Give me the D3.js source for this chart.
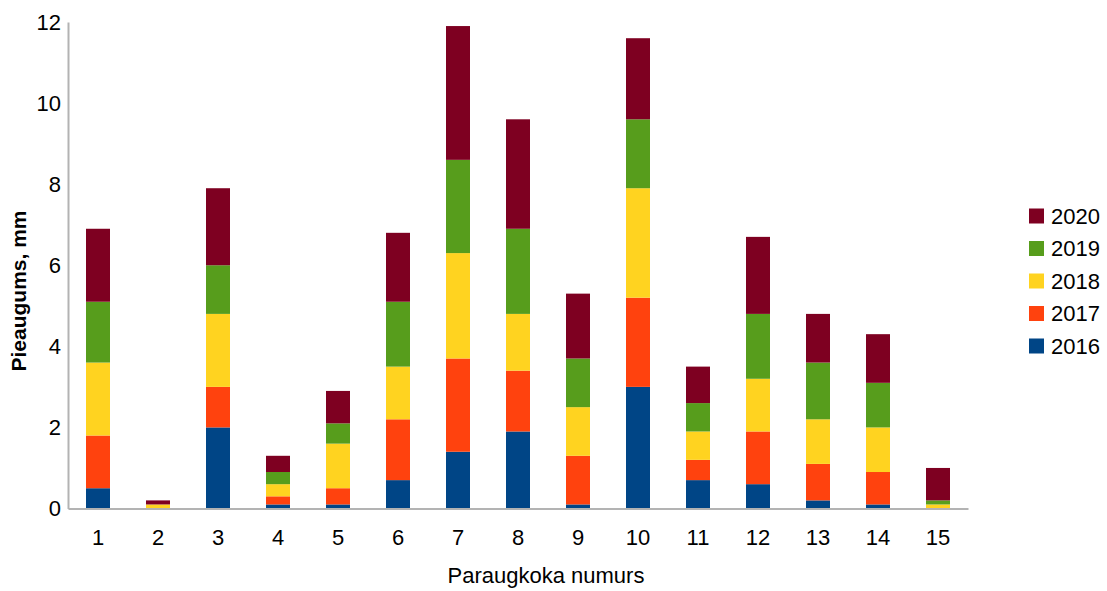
<!DOCTYPE html>
<html>
<head>
<meta charset="utf-8">
<script src="https://cdn.jsdelivr.net/npm/d3@7"></script>
<style>
  body { margin: 0; background: #fff; }
  svg { display: block; font-family: "Liberation Sans", Arial, sans-serif; }
</style>
</head>
<body>
<div id="chart"></div>
<script>
// Data
const samples = ["1", "2", "3", "4", "5", "6", "7", "8", "9", "10", "11", "12", "13", "14", "15"];
const years = ["2016", "2017", "2018", "2019", "2020"];
const v2016 = [0.5, 0, 2.0, 0.1, 0.1, 0.7, 1.4, 1.9, 0.1, 3.0, 0.7, 0.6, 0.2, 0.1, 0];
const v2017 = [1.3, 0, 1.0, 0.2, 0.4, 1.5, 2.3, 1.5, 1.2, 2.2, 0.5, 1.3, 0.9, 0.8, 0];
const v2018 = [1.8, 0.1, 1.8, 0.3, 1.1, 1.3, 2.6, 1.4, 1.2, 2.7, 0.7, 1.3, 1.1, 1.1, 0.1];
const v2019 = [1.5, 0, 1.2, 0.3, 0.5, 1.6, 2.3, 2.1, 1.2, 1.7, 0.7, 1.6, 1.4, 1.1, 0.1];
const v2020 = [1.8, 0.1, 1.9, 0.4, 0.8, 1.7, 3.3, 2.7, 1.6, 2.0, 0.9, 1.9, 1.2, 1.2, 0.8];
const yTicks = [0, 2, 4, 6, 8, 10, 12];
const colors = ["#004586", "#ff420e", "#ffd320", "#579d1c", "#7e0021"];

const width = 1107, height = 591;
const plot = { left: 68, right: 968, top: 22, bottom: 508.5 };

const svg = d3.select("#chart").append("svg")
  .attr("width", width)
  .attr("height", height);

// build rows for the stack
const series = [v2016, v2017, v2018, v2019, v2020];
const rows = samples.map((s, i) => {
  let r = { sample: s };
  years.forEach((y, j) => { r[y] = series[j][i]; });
  return r;
});
const stacked = d3.stack().keys(years)(rows);

const x = d3.scaleBand().domain(samples).range([plot.left, plot.right]).paddingInner(0.6).paddingOuter(0.3);
const y = d3.scaleLinear().domain([0, 12]).range([plot.bottom, plot.top]);
const color = d3.scaleOrdinal().domain(years).range(colors);

// bars
svg.append("g").selectAll("g")
  .data(stacked)
  .enter().append("g")
    .attr("fill", d => color(d.key))
  .selectAll("rect")
  .data(d => d)
  .enter().append("rect")
    .attr("x", d => x(d.data.sample))
    .attr("width", x.bandwidth())
    .attr("y", d => y(d[1]))
    .attr("height", d => y(d[0]) - y(d[1]));

// y axis
const yAxis = svg.append("g")
  .attr("transform", "translate(" + plot.left + ",0)")
  .call(d3.axisLeft(y).tickValues(yTicks).tickSize(0).tickPadding(7));
yAxis.select(".domain").attr("stroke", "#b3b3b3").attr("stroke-width", 2);
yAxis.selectAll("text").style("font-size", "22px").attr("fill", "#000");

// x axis
const xAxis = svg.append("g")
  .attr("transform", "translate(0," + plot.bottom + ")")
  .call(d3.axisBottom(x).tickSize(0).tickPadding(21));
xAxis.select(".domain").attr("stroke", "#b3b3b3").attr("stroke-width", 2);
xAxis.selectAll("text").style("font-size", "22px").attr("fill", "#000");

// axis titles
svg.append("text")
  .attr("x", 546)
  .attr("y", 583)
  .style("text-anchor", "middle")
  .style("font-size", "22px")
  .text("Paraugkoka numurs");

svg.append("text")
  .attr("transform", "translate(26," + 291 + ") rotate(-90)")
  .style("text-anchor", "middle")
  .style("font-size", "21px")
  .style("font-weight", "bold")
  .text("Pieaugums, mm");

// legend, newest year on top
const legend = svg.selectAll(".legend")
  .data(years.slice().reverse())
  .enter().append("g")
  .attr("class", "legend")
  .attr("transform", (d, i) => "translate(1029," + (216 + i * 32.5) + ")");

legend.append("rect")
  .attr("y", -7.5)
  .attr("width", 15)
  .attr("height", 15)
  .attr("fill", d => color(d));

legend.append("text")
  .attr("x", 22)
  .attr("dy", "0.36em")
  .style("font-size", "22px")
  .text(d => d);
</script>
</body>
</html>
